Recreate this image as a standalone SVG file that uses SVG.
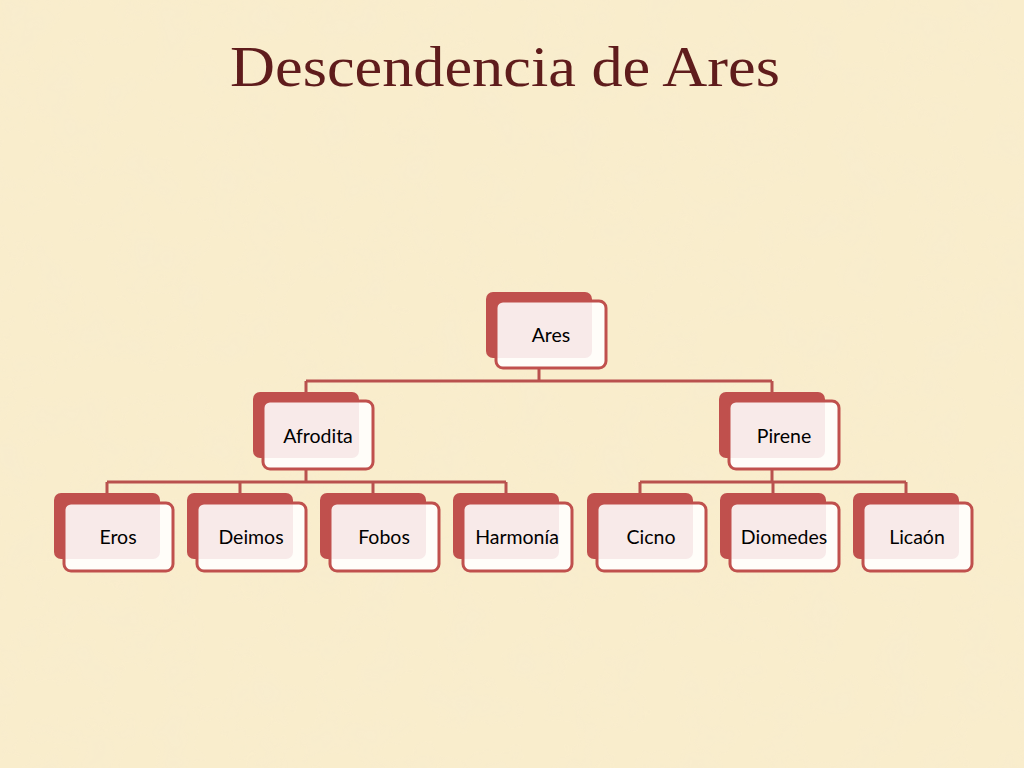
<svg xmlns="http://www.w3.org/2000/svg" width="1024" height="768" viewBox="0 0 1024 768">
<defs>
<filter id="tex" x="0" y="0" width="100%" height="100%">
<feTurbulence type="fractalNoise" baseFrequency="0.025" numOctaves="3" seed="4"/>
<feColorMatrix type="matrix" values="0 0 0 0 0.93  0 0 0 0 0.84  0 0 0 0 0.64  0 0 0 -1.6 0.9"/>
</filter>
<style>
.back{fill:#c0504d;}
.front{fill:#ffffff;fill-opacity:0.88;stroke:#c0504d;stroke-width:3;}
.lbl{font-family:Lato,"Open Sans",sans-serif;font-size:19.5px;fill:#000;text-anchor:middle;}
.con{stroke:#b9514e;stroke-width:3;fill:none;}
.title{font-family:"Liberation Serif","DejaVu Serif",serif;font-size:58px;fill:#5f1c1c;text-anchor:middle;}
</style>
</defs>
<rect width="1024" height="768" fill="#f9edcc"/>
<rect width="1024" height="768" filter="url(#tex)" opacity="0.6"/>
<text class="title" x="505" y="86" textLength="550" lengthAdjust="spacingAndGlyphs">Descendencia de Ares</text>
<g id="connectors">
<path class="con" d="M539 369V381M306 381H772M306 381V392M772 381V392"/>
<path class="con" d="M306 470V482M107 482H506M107 482V493M240 482V493M373 482V493M506 482V493"/>
<path class="con" d="M772 470V482M640 482H906M640 482V493M773 482V493M906 482V493"/>
</g>
<g id="ares"><rect class="back" x="486" y="292" width="106" height="66" rx="7"/><rect class="front" x="496" y="301" width="110" height="67" rx="7"/><text class="lbl" x="551" y="342">Ares</text></g>
<g id="afrodita"><rect class="back" x="253" y="392" width="106" height="66" rx="7"/><rect class="front" x="263" y="401" width="110" height="68" rx="7"/><text class="lbl" x="318" y="443">Afrodita</text></g>
<g id="pirene"><rect class="back" x="719" y="392" width="106" height="66" rx="7"/><rect class="front" x="729" y="401" width="110" height="68" rx="7"/><text class="lbl" x="784" y="443">Pirene</text></g>
<g id="eros"><rect class="back" x="54" y="493" width="106" height="66" rx="7"/><rect class="front" x="64" y="503" width="109" height="68" rx="7"/><text class="lbl" x="118" y="544">Eros</text></g>
<g id="deimos"><rect class="back" x="187" y="493" width="106" height="66" rx="7"/><rect class="front" x="197" y="503" width="109" height="68" rx="7"/><text class="lbl" x="251" y="544">Deimos</text></g>
<g id="fobos"><rect class="back" x="320" y="493" width="106" height="66" rx="7"/><rect class="front" x="330" y="503" width="109" height="68" rx="7"/><text class="lbl" x="384" y="544">Fobos</text></g>
<g id="harmonia"><rect class="back" x="453" y="493" width="106" height="66" rx="7"/><rect class="front" x="463" y="503" width="109" height="68" rx="7"/><text class="lbl" x="517" y="544">Harmonía</text></g>
<g id="cicno"><rect class="back" x="587" y="493" width="106" height="66" rx="7"/><rect class="front" x="597" y="503" width="109" height="68" rx="7"/><text class="lbl" x="651" y="544">Cicno</text></g>
<g id="diomedes"><rect class="back" x="720" y="493" width="106" height="66" rx="7"/><rect class="front" x="730" y="503" width="109" height="68" rx="7"/><text class="lbl" x="784" y="544">Diomedes</text></g>
<g id="licaon"><rect class="back" x="853" y="493" width="106" height="66" rx="7"/><rect class="front" x="863" y="503" width="109" height="68" rx="7"/><text class="lbl" x="917" y="544">Licaón</text></g>
</svg>
